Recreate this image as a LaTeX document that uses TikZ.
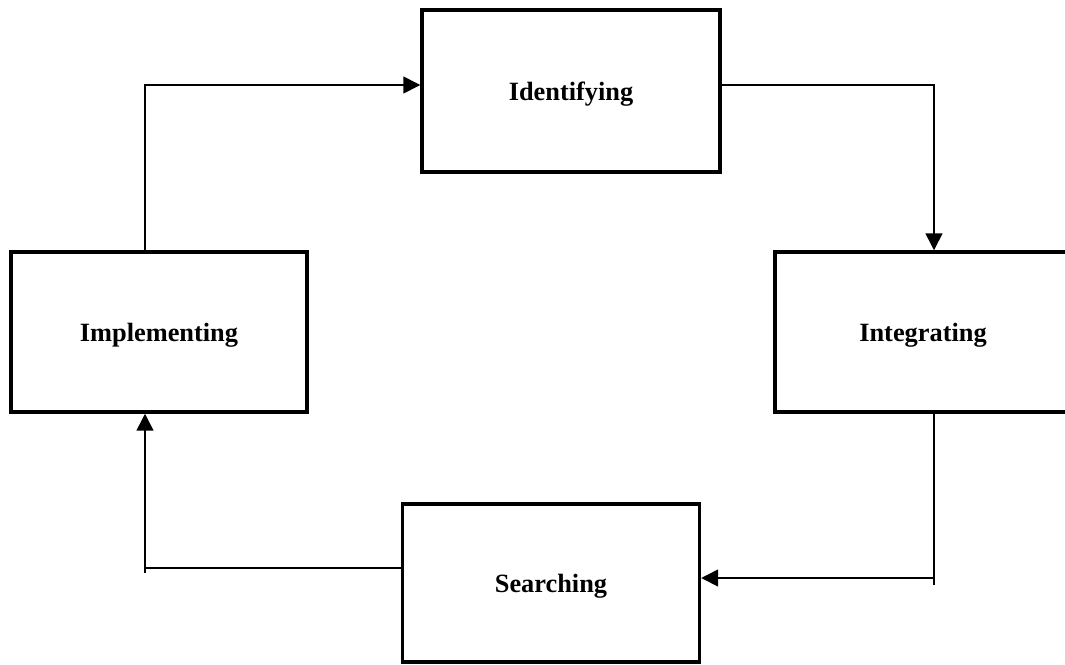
\documentclass[tikz,border=0pt]{standalone}
\usepackage{fontspec}
\setmainfont{Liberation Serif}
\usetikzlibrary{arrows.meta}

\begin{document}
\begin{tikzpicture}[
    x=0.02cm, y=-0.02cm,
    stage/.style={
      rectangle, draw, line width=2pt,
      minimum width=5.92cm, minimum height=3.2cm, text depth=0pt,
      font=\fontsize{15}{18}\selectfont\bfseries
    },
    link/.style={
      line width=0.9pt
    },
    flow/.style={
      link, -{Triangle[length=0.34cm, width=0.34cm]}
    }
    ]
  \useasboundingbox (0,0) rectangle (1065,664);
  \node[stage, minimum width=5.96cm, minimum height=3.24cm] (idf) at (571,91) {Identifying};
  \node[stage] (impl) at (159,332) {Implementing};
  \node[stage] (intg) at (923,332) {Integrating};
  \node[stage, minimum width=5.94cm, minimum height=3.16cm] (srch) at (551,583) {Searching};
  % corners of the loop
  \coordinate (k1) at (145,85);
  \coordinate (k2) at (934,85);
  \coordinate (k3) at (934,578);
  \coordinate (k4) at (145,568);
  \draw[flow] (impl.north -| k1) |- (idf.west |- k1);
  \draw[flow] (idf.east |- k2) -| (intg.north -| k2);
  \draw[link] (intg.south -| k3) -- ([yshift=-0.14cm]k3);
  \draw[flow] (k3) -- (srch.east |- k3);
  \draw[link] (srch.west |- k4) -- (k4);
  \draw[flow] ([yshift=-0.1cm]k4) -- (impl.south -| k4);
\end{tikzpicture}
\end{document}
